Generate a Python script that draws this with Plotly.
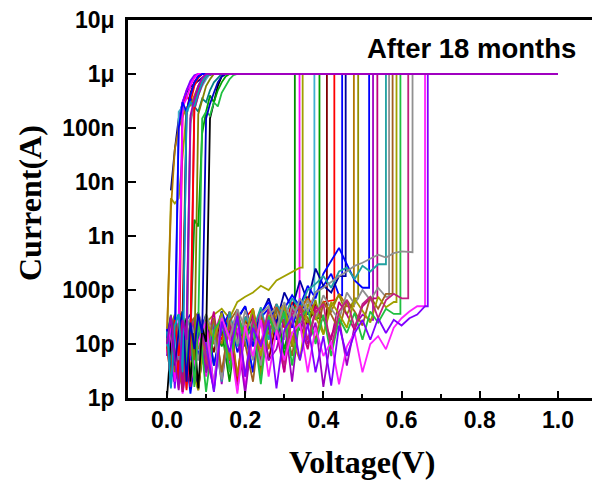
import plotly.graph_objects as go

# ---------------- data ----------------
# Group A: early-switching sweeps, currents in pA at 0.01 V steps from start voltage
A_start = [0.0, 0.01, 0.0, 0.0, 0.0, 0.0, 0.0, 0.0, 0.0, 0.0, 0.0,
           0.0, 0.0, 0.0, 0.0, 0.0, 0.0, 0.0, 0.0, 0.0, 0.0, 0.0]
A_pA = [
    [1, 10, 25, 3, 14, 30, 2, 16, 1.5, 20, 11, 1.5e5, 3e5, 6e5, 9e5, 1e6],
    [7e3, 4e4, 1.5e5, 3e5, 4.5e5, 5.8e5, 6.5e5, 7.5e5, 8.5e5, 9.2e5, 9.7e5, 1e6],
    [12, 5e3, 4e3, 5e3, 3e4, 2e5, 4e5, 7e5, 9e5, 1e6],
    [15, 3, 28, 1.5, 2.5e5, 4e5, 3e5, 6e5, 8.5e5, 1e6],
    [9, 30, 2, 22, 4, 1.8e5, 3.5e5, 2.5e5, 5e5, 8e5, 1e6],
    [20, 2.5, 5, 1.2e5, 3e5, 5e5, 7e5, 9e5, 1e6],
    [13, 3, 26, 35, 1.5, 19, 14, 2e3, 1.5e3, 8e4, 2e5, 4e5, 3e5, 5e5, 7e5, 9e5, 1e6],
    [8, 28, 2, 2e5, 2.5e5, 1.8e5, 3e5, 2.2e5, 4e5, 6e5, 8e5, 1e6],
    [18, 4, 32, 14, 1.8, 21, 1.5e5, 2.5e5, 2e5, 3.5e5, 3e5, 5e5, 7e5, 8.5e5, 1e6],
    [11, 30, 2, 15, 35, 2e5, 4.5e5, 7e5, 9e5, 1e6],
    [6, 24, 1.5, 30, 3e5, 5e5, 7.5e5, 9.5e5, 1e6],
    [16, 3e3, 4e4, 1e5, 1.6e5, 2.4e5, 2.6e5, 4e5, 6e5, 8e5, 1e6],
    [12, 33, 4, 17, 1.3, 25, 6, 2.2e5, 4e5, 6.5e5, 9e5, 1e6],
    [10, 2, 24, 5, 30, 1.5, 1.2e5, 3e5, 5.5e5, 8e5, 1e6],
    [14, 35, 3, 18, 40, 4, 26, 1.6, 22, 1.5e5, 2e5, 1.7e5, 3e5, 2.5e5, 4.5e5, 6e5, 8e5, 9.5e5, 1e6],
    [7, 26, 2, 20, 2.5e5, 3.5e5, 6e5, 8.5e5, 1e6],
    [19, 1.6, 14, 1e5, 3e5, 2e5, 4e5, 7e5, 9e5, 1e6],
    [11, 30, 3, 23, 38, 2, 20, 5, 1.8e5, 3.5e5, 6e5, 8e5, 1e6],
    [9, 2.2, 28, 6, 33, 1.4, 16, 2.5e5, 5e5, 7e5, 9e5, 1e6],
    [13, 32, 4, 17, 40, 2, 25, 8, 36, 16, 1.5e5, 2.8e5, 4.5e5, 7e5, 9e5, 1e6],
    [17, 1.5, 22, 36, 3, 2e5, 3e5, 2.5e5, 4.5e5, 7e5, 9e5, 1e6],
    [10, 34, 5, 1.4, 28, 12, 1.7e5, 3.5e5, 6e5, 8.5e5, 1e6],
]

# Group B: late-switching sweeps, floor currents in pA at 0.02 V steps, threshold voltages
B_vth = [0.327, 0.339, 0.347, 0.377, 0.390, 0.409, 0.428, 0.448, 0.457, 0.478, 0.489,
         0.517, 0.527, 0.538, 0.560, 0.568, 0.577, 0.587, 0.597, 0.617, 0.628, 0.660, 0.667]
B_pA = [
    [14, 3, 25, 1.5, 12, 35, 4, 18, 2, 28, 9, 40, 3, 22, 45, 6, 30],
    [9, 22, 1.2, 11, 30, 2.5, 16, 38, 4, 20, 1.5, 26, 8, 35, 17, 3, 32],
    [12, 4, 20, 28, 8, 25, 35, 45, 30, 60, 75, 90, 120, 100, 150, 180, 220, 260],
    [16, 2, 13, 30, 5, 22, 1.3, 26, 6, 33, 14, 3, 40, 12, 28, 4, 38, 25, 45],
    [7, 25, 1.8, 12, 30, 3, 20, 9, 36, 2, 22, 14, 4, 28, 40, 8, 33, 18, 45, 30],
    [20, 4, 28, 10, 1.4, 25, 7, 35, 16, 2.5, 30, 12, 42, 5, 26, 38, 9, 48, 22, 55, 28],
    [10, 28, 3, 18, 35, 5, 22, 12, 40, 2, 30, 45, 9, 27, 55, 20, 60, 40, 75, 38, 60, 65],
    [13, 2, 25, 1.2, 15, 33, 4, 20, 38, 7, 18, 3, 31, 45, 12, 50, 20, 65, 35, 90, 120, 200, 80],
    [18, 3, 30, 8, 1.5, 24, 10, 40, 5, 28, 50, 14, 34, 70, 25, 90, 45, 150, 60, 250, 120, 90, 180],
    [6, 25, 1.5, 16, 32, 4, 26, 10, 38, 2.5, 30, 17, 45, 8, 36, 55, 12, 42, 70, 28, 60, 40, 85, 50],
    [15, 35, 3, 19, 1.8, 28, 10, 40, 5, 33, 14, 45, 2.5, 36, 20, 55, 9, 42, 25, 65, 15, 50, 80, 35, 70],
    [11, 2, 22, 35, 6, 28, 1.5, 40, 16, 30, 50, 9, 38, 60, 22, 45, 80, 50, 120, 70, 200, 350, 600, 300, 150, 110],
    [8, 30, 1.3, 14, 35, 3, 24, 1.8, 28, 15, 1.2, 19, 38, 5, 8, 30, 2, 36, 10, 25, 1.6, 14, 30, 4, 22, 35, 28],
    [17, 4, 32, 1.6, 22, 9, 40, 2.5, 26, 1.4, 18, 35, 5, 42, 20, 3, 45, 25, 8, 50, 30, 12, 60, 35, 18, 50, 70],
    [12, 30, 3, 22, 38, 6, 28, 2, 40, 9, 32, 18, 48, 12, 55, 30, 70, 45, 100, 130, 180, 110, 220, 260, 160, 280, 220, 300],
    [9, 24, 1.8, 28, 5, 36, 14, 2.2, 30, 10, 42, 16, 4, 34, 48, 12, 52, 25, 65, 30, 80, 45, 28, 90, 55, 100, 65, 110, 75],
    [21, 5, 1.6, 25, 38, 8, 30, 3, 26, 44, 10, 2, 33, 15, 48, 24, 6, 52, 30, 12, 58, 35, 18, 65, 40, 22, 75, 45, 85],
    [10, 26, 40, 4, 1.4, 28, 12, 38, 3, 30, 14, 45, 6, 34, 20, 50, 12, 5, 55, 32, 15, 60, 36, 20, 68, 42, 25, 75, 48, 60],
    [14, 2, 28, 8, 35, 1.3, 18, 30, 3, 36, 12, 24, 1.8, 32, 15, 40, 4, 30, 45, 10, 35, 6, 30, 16, 38, 12, 40, 25, 45, 36],
    [11, 30, 3, 20, 36, 6, 1.5, 28, 14, 40, 2.5, 30, 10, 45, 22, 4, 35, 50, 12, 38, 55, 8, 40, 65, 20, 55, 75, 30, 65, 85, 70],
    [16, 4, 30, 9, 38, 15, 1.8, 32, 12, 44, 20, 5, 36, 50, 18, 60, 25, 70, 40, 90, 110, 140, 180, 220, 280, 320, 380, 450, 400, 480, 520, 500],
    [7, 20, 30, 2, 11, 26, 1.5, 30, 13, 1.2, 22, 6, 28, 2.5, 18, 5, 16, 24, 3, 20, 6, 11, 1.8, 9, 16, 3, 10, 14, 8, 20, 30, 40, 50],
    [12, 2, 25, 5, 30, 10, 1.3, 26, 7, 33, 2.5, 20, 9, 28, 1.5, 18, 32, 5, 24, 3, 14, 1.7, 22, 6, 16, 28, 12, 30, 16, 28, 22, 30, 35, 50],
]

A_step = 0.01
B_step = 0.02
I_cc_pA = 1e6      # compliance 1 uA
V_end = 1.0

y_tick_vals = [1e-12, 1e-11, 1e-10, 1e-9, 1e-8, 1e-7, 1e-6, 1e-5]
y_tick_text = ["1p", "10p", "100p", "1n", "10n", "100n", "1μ", "10μ"]
x_tick_vals = [0.0, 0.2, 0.4, 0.6, 0.8, 1.0]
x_tick_text = ["0.0", "0.2", "0.4", "0.6", "0.8", "1.0"]

# ---------------- styles ----------------
A_colors = ["#000000", "#000080", "#a0a000", "#ff0000", "#0000ff", "#ff00ff", "#00a000",
            "#40b0d0", "#008080", "#800000", "#8000ff", "#b07800", "#c00080", "#808080",
            "#20c040", "#ff00ff", "#0000ff", "#808000", "#ff0000", "#0000c0", "#00a0c0", "#a000c0"]
B_colors = ["#009000", "#ff00ff", "#a0a000", "#40b0d0", "#00a000", "#800000", "#ff0000",
            "#0000ff", "#0000a0", "#b07800", "#909000", "#0000ff", "#a000c0", "#c00080",
            "#20a0a0", "#909090", "#a06020", "#a0a000", "#20c040", "#c02080", "#909090",
            "#ff20ff", "#8000ff"]
LW = 1.8

fig = go.Figure()

for k, (vals, colr) in enumerate(zip(B_pA, B_colors)):
    vth = B_vth[k]
    xs = [i * B_step for i in range(len(vals))] + [vth, vth, V_end]
    ys = [v * 1e-12 for v in vals] + [vals[-1] * 1e-12, I_cc_pA * 1e-12, I_cc_pA * 1e-12]
    fig.add_trace(go.Scatter(x=xs, y=ys, mode="lines", line=dict(color=colr, width=LW),
                             hoverinfo="skip", showlegend=False))

for k, (vals, colr) in enumerate(zip(A_pA, A_colors)):
    s = A_start[k]
    xs = [s + i * A_step for i in range(len(vals))] + [V_end]
    ys = [v * 1e-12 for v in vals] + [I_cc_pA * 1e-12]
    fig.add_trace(go.Scatter(x=xs, y=ys, mode="lines", line=dict(color=colr, width=LW),
                             hoverinfo="skip", showlegend=False))

W, H = 592, 487
ml, mr, mt, mb = 128, 0, 20, 89
pw, ph = W - ml - mr, H - mt - mb

def px_x(p):
    return (p - ml) / pw

def px_y(p):
    return (H - mb - p) / ph

tick_font = dict(family="Liberation Sans, Arial, sans-serif", size=23, color="black", weight="bold")
title_font = dict(family="Liberation Serif, Times New Roman, serif", size=32, color="black", weight="bold")

fig.update_layout(
    width=W, height=H,
    margin=dict(l=ml, r=mr, t=mt, b=mb),
    paper_bgcolor="white", plot_bgcolor="white",
    xaxis=dict(range=[-0.0997, 1.087], showgrid=False, zeroline=False,
               showline=True, linecolor="black", linewidth=2.5, mirror=True,
               ticks="inside", ticklen=7, tickwidth=2, tickcolor="black",
               tickvals=x_tick_vals, ticktext=x_tick_text,
               tickfont=tick_font,
               minor=dict(ticks="inside", ticklen=4, tickwidth=2, tickcolor="black",
                          dtick=0.1, tick0=0.0, showgrid=False)),
    yaxis=dict(type="log", range=[-12, -5], showgrid=False, zeroline=False,
               showline=True, linecolor="black", linewidth=2.5,
               ticks="inside", ticklen=8, tickwidth=2, tickcolor="black",
               tickvals=y_tick_vals, ticktext=y_tick_text,
               tickfont=tick_font, ticklabelstandoff=6),
    annotations=[
        dict(text="After 18 months", xref="paper", yref="paper",
             x=px_x(578), y=px_y(48), xanchor="right", yanchor="middle",
             showarrow=False,
             font=dict(family="Liberation Sans, Arial, sans-serif", size=27.5,
                       color="black", weight="bold")),
        dict(text="Voltage(V)", xref="paper", yref="paper",
             x=px_x(362), y=px_y(462), xanchor="center", yanchor="middle",
             showarrow=False, font=title_font),
        dict(text="Current(A)", xref="paper", yref="paper",
             x=px_x(30), y=px_y(203), xanchor="center", yanchor="middle",
             textangle=-90, showarrow=False, font=title_font),
    ],
)

fig.write_html("out.html")
